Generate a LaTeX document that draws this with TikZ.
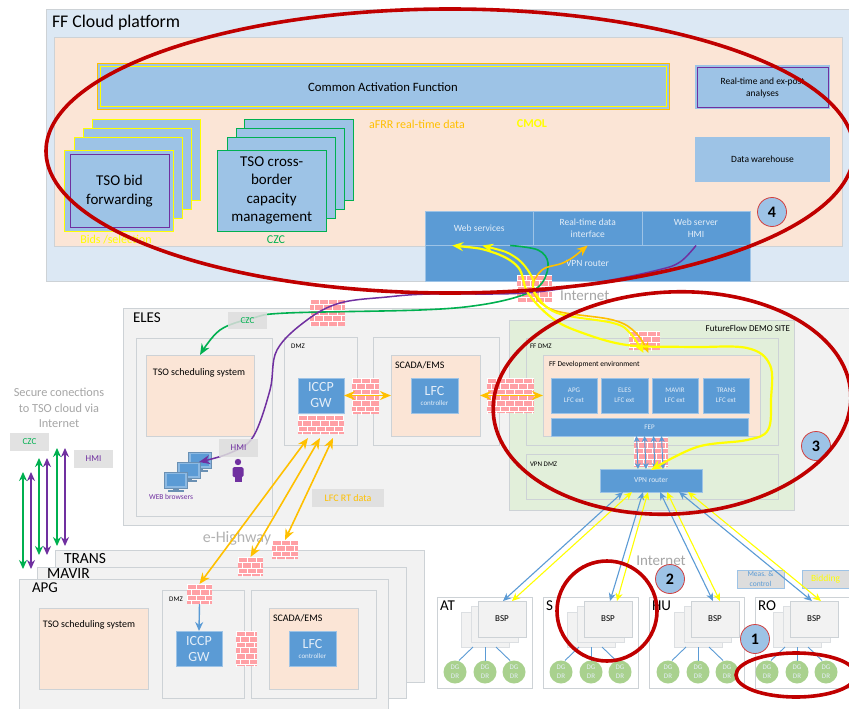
\documentclass[tikz,border=0pt]{standalone}
\usepackage{fontspec}
\setmainfont{Carlito}
\usetikzlibrary{arrows.meta,calc}
\definecolor{skyb}{HTML}{DCE8F4}
\definecolor{peach}{HTML}{FBE5D6}
\definecolor{lblue}{HTML}{9DC3E6}
\definecolor{mblue}{HTML}{5B9BD5}
\definecolor{edge}{HTML}{CDD2D6}
\definecolor{gbox}{HTML}{F2F2F2}
\definecolor{lab}{HTML}{DDDDDD}
\definecolor{dgreen}{HTML}{E2EFDA}
\definecolor{dg}{HTML}{A9D18E}
\definecolor{ffy}{HTML}{FFFF00}
\definecolor{ffo}{HTML}{FFC000}
\definecolor{ffg}{HTML}{00B050}
\definecolor{ffp}{HTML}{7030A0}
\definecolor{ffr}{HTML}{C00000}
\definecolor{brick}{HTML}{FFA0A5}
\definecolor{softw}{HTML}{E4EEF8}
\tikzset{
 x=1pt,y=-1pt,
 >={Stealth[length=9pt,width=8pt]},
 plain/.style={inner sep=0pt,outer sep=0pt,align=center,font=\fontsize{10}{12}\selectfont},
 cloudb/.style={plain,fill=skyb,draw=edge,line width=1pt},
 peachb/.style={plain,fill=peach,draw=edge,line width=1pt},
 greyb/.style={plain,fill=gbox,draw=edge,line width=1pt},
 greenb/.style={plain,fill=dgreen,draw=edge,line width=1pt},
 paleb/.style={plain,fill=lblue},
 yelb/.style={plain,fill=lblue,draw=ffy,line width=1pt},
 grnb/.style={plain,fill=lblue,draw=ffg,line width=1pt},
 solid blue/.style={plain,fill=mblue,text=softw,draw=lblue,line width=.6pt},
 wallfill/.style={plain,fill=brick},
 tag/.style={plain,fill=lab,fill opacity=.85,text opacity=1},
 txt/.style={inner sep=0pt,outer sep=0pt,align=center,font=\fontsize{10}{12}\selectfont},
 dgc/.style={circle,fill=dg,minimum size=23pt,inner sep=0pt,outer sep=0pt,align=center,text=softw,font=\fontsize{7}{9}\selectfont},
 num/.style={circle,fill=lblue,draw=ffr!75,line width=.8pt,minimum size=29pt,inner sep=0pt,font=\bfseries\fontsize{16}{18}\selectfont},
 red ring/.style={draw=ffr,line width=3.6pt},
 bluearr/.style={draw=mblue,line width=1.1pt,<->},
 yelarr/.style={draw=ffy,line width=1.1pt,<->},
 orgarr/.style={draw=ffo,line width=1.6pt,<->},
 linkl/.style={draw=mblue,line width=.9pt},
}
\newcommand{\bx}[7][]{\node[#2,#1,anchor=north west,minimum width={(#5-#3)*1pt},minimum height={(#6-#4)*1pt}] (#7) at (#3,#4) {};}
\newcommand{\tbx}[8][]{\node[#2,#1,anchor=north west,minimum width={(#5-#3)*1pt},minimum height={(#6-#4)*1pt}] (#7) at (#3,#4) {#8};}
\newcommand{\wall}[5]{%
 \bx{wallfill}{#2}{#3}{#4}{#5}{#1}
 \begin{scope}
 \clip (#2,#3) rectangle (#4,#5);
 \foreach \rw in {0,...,9}{%
  \pgfmathsetmacro\yy{#3+\rw*5.6}
  \pgfmathsetmacro\yz{\yy+5.6}
  \draw[white,line width=.7pt] (#2,\yy) -- (#4,\yy);
  \foreach \cl in {0,...,6}{%
   \pgfmathsetmacro\xx{#2+\cl*9+mod(\rw,2)*4.5}
   \draw[white,line width=.7pt] (\xx,\yy) -- (\xx,\yz);
  }
 }
 \end{scope}}
\newcommand{\monitor}[3]{%
 \node[plain,fill=mblue!70,draw=mblue!60!gray,line width=.6pt,minimum width=23pt,minimum height=16pt] (#1) at (#2,#3) {};
 \fill[mblue] (#2-9,#3-6) rectangle (#2+9,#3+6);
 \fill[mblue!60!gray] (#2-3,#3+8) rectangle (#2+3,#3+10);
 \fill[mblue!60!gray] (#2-8,#3+10) rectangle (#2+8,#3+12);}
\newcommand{\bspset}[7]{%
 \pgfmathsetmacro\bxa{#2}\pgfmathsetmacro\bxb{#2+95}
 \bx{plain,fill=white,draw=edge,line width=1pt}{\bxa}{597}{\bxb}{688}{reg#1}
 \node[txt,anchor=west,font=\fontsize{15}{17}\selectfont] (lab#1) at (\bxa+3,606) {#4};
 \pgfmathsetmacro\da{461+#3}\pgfmathsetmacro\db{509+#3}
 \bx{plain,fill=gbox,draw=edge!70,line width=.7pt}{\da}{612}{\db}{647}{bb#1}
 \pgfmathsetmacro\da{471+#3}\pgfmathsetmacro\db{518+#3}
 \bx{plain,fill=gbox,draw=edge!70,line width=.7pt}{\da}{606}{\db}{642}{bm#1}
 \pgfmathsetmacro\da{478+#3}\pgfmathsetmacro\db{526+#3}
 \tbx{plain,fill=gbox,draw=edge,line width=.7pt,font=\fontsize{9}{11}\selectfont}{\da}{601}{\db}{637}{bsp#1}{BSP}
 \node[dgc] (da#1) at (455+#3,672) {DG\\DR};
 \node[dgc] (db#1) at (485+#3,672) {DG\\DR};
 \node[dgc] (dc#1) at (514+#3,672) {DG\\DR};
 \draw[linkl] ($(bb#1.south)+(-12,0)$) -- ($(da#1.north)+(4,0)$);
 \draw[linkl] (bb#1.south) -- (db#1.north);
 \draw[linkl] ($(bb#1.south)+(11,0)$) -- ($(dc#1.north)+(-4,0)$);}
\begin{document}
\begin{tikzpicture}
\clip (0,0) rectangle (849,709);
\fill[white] (0,0) rectangle (849,709);

% ---- Cloud platform
\bx{cloudb}{46}{10}{860}{281}{cloud}
\node[txt,anchor=west,font=\fontsize{17.8}{20}\selectfont] (cloudt) at (52,23) {FF Cloud platform};
\bx{peachb}{54}{38}{842}{246}{cloudin}
\bx{plain,fill=lblue,draw=ffo,line width=1pt}{97}{64}{669}{109}{cafo}
\tbx{yelb,font=\fontsize{12.7}{15}\selectfont}{100}{67}{666}{106.5}{caf}{Common Activation Function}
\node[txt,text=ffo,font=\fontsize{12}{14}\selectfont] (afrr) at (417,124) {aFRR real-time data};
\node[txt,text=ffy,font=\bfseries\fontsize{12}{14}\selectfont] (cmol) at (532,124) {CMOL};
\bx{yelb}{92}{119}{200}{200}{ya3}
\bx{yelb}{83}{128}{191}{209}{ya2}
\bx{yelb}{74}{137}{182}{218}{ya1}
\bx{yelb}{64.5}{150}{173}{231}{ya0}
\tbx{plain,fill=lblue,draw=ffp,line width=1pt,font=\fontsize{15}{18.5}\selectfont}{70}{154.5}{169}{227.5}{bidf}{TSO bid\\forwarding}
\bx{grnb}{244.5}{119}{353}{200}{ga3}
\bx{grnb}{236}{128}{344}{209}{ga2}
\bx{grnb}{227}{137}{335}{218}{ga1}
\tbx{grnb,font=\fontsize{15}{18.5}\selectfont}{217.5}{150}{326}{231}{czcm}{TSO cross-\\border\\capacity\\management}
\node[txt,text=ffy,font=\fontsize{12}{14}\selectfont] (bidl) at (116,240) {Bids /selection};
\node[txt,text=ffg,font=\fontsize{12}{14}\selectfont] (czcl) at (276,240) {CZC};
\bx{plain,fill=lblue}{695}{65}{830}{109}{rto}
\tbx{plain,fill=lblue,draw=ffp,line width=1pt,font=\fontsize{9.5}{12}\selectfont}{697}{68}{828}{107}{rt}{Real-time and ex-post\\analyses}
\tbx{paleb,font=\fontsize{9.5}{12}\selectfont}{695}{137}{830}{182}{dw}{Data warehouse}
\tbx{solid blue,font=\fontsize{9.5}{12}\selectfont}{425}{211}{533.5}{245.5}{webA}{Web services}
\tbx{solid blue,font=\fontsize{9.5}{12}\selectfont}{533.5}{211}{642}{245.5}{webB}{Real-time data\\interface}
\tbx{solid blue,font=\fontsize{9.5}{12}\selectfont}{642}{211}{750}{245.5}{webC}{Web server\\HMI}
\tbx{solid blue,font=\fontsize{9.5}{12}\selectfont}{425}{245.5}{750}{281}{vpnc}{VPN router}
\node[num] (n4) at (772,212) {4};

% ---- ELES
\bx{greyb}{123}{308}{860}{525}{eles}
\node[txt,anchor=west,font=\fontsize{15}{17}\selectfont] (elest) at (133,318) {ELES};
\bx{greyb}{136}{338}{272}{516}{tsobox}
\bx{peachb}{146}{355}{254}{436}{tsos}
\node[txt] (tsost) at (199,373) {TSO scheduling system};
\bx{greyb}{284}{337}{357}{445}{dmzb}
\node[txt,font=\fontsize{7}{9}\selectfont] (dmzt) at (298,346) {DMZ};
\tbx{solid blue,font=\fontsize{14}{16}\selectfont}{298}{378}{344}{413}{iccp}{ICCP\\GW}
\wall{wiccp}{298}{415}{344}{434}
\bx{greyb}{373}{337}{499}{445}{scadab}
\bx{peachb}{391}{355}{480}{436}{scada}
\node[txt,anchor=west] (scadat) at (395,365) {SCADA/EMS};
\tbx{solid blue}{411}{378}{458}{413}{lfc}{{\fontsize{14}{14}\selectfont LFC}\\[-2pt]{\fontsize{7}{8}\selectfont controller}}
\wall{w1}{352}{378}{379}{414}
\wall{w0}{310}{299}{345}{326}

% ---- Demo site
\bx{greenb}{509}{320}{794}{510}{demo}
\node[txt,anchor=east,font=\fontsize{9}{11}\selectfont] (demot) at (790,328) {FutureFlow DEMO SITE};
\bx{greenb}{526}{338}{778}{445}{ffdmz}
\node[txt,anchor=west,font=\fontsize{7}{9}\selectfont] (ffdt) at (530,346) {FF DMZ};
\bx{peachb}{543}{355}{760}{436}{devenv}
\node[txt,anchor=west,font=\fontsize{7.5}{9}\selectfont] (devt) at (549,364) {FF Development environment};
\tbx{solid blue,font=\fontsize{7}{9.5}\selectfont}{551}{378}{597}{413}{exA}{APG\\LFC ext}
\tbx{solid blue,font=\fontsize{7}{9.5}\selectfont}{601}{378}{648}{413}{exB}{ELES\\LFC ext}
\tbx{solid blue,font=\fontsize{7}{9.5}\selectfont}{652}{378}{698}{413}{exC}{MAVIR\\LFC ext}
\tbx{solid blue,font=\fontsize{7}{9.5}\selectfont}{703}{378}{749}{413}{exD}{TRANS\\LFC ext}
\tbx{solid blue,font=\fontsize{7}{9}\selectfont}{551}{418}{748}{436}{fep}{FEP}
\bx{greenb}{526}{454}{778}{499}{vpnd}
\node[txt,anchor=west,font=\fontsize{7}{9}\selectfont] (vpnt) at (530,464) {VPN DMZ};
\tbx{solid blue,font=\fontsize{7.5}{9}\selectfont}{600}{469}{702}{492}{vpnr}{VPN router}
\wall{w3}{487}{378}{534}{413}
\wall{w5}{634}{437}{668}{467}
\wall{w6}{629}{331}{660}{350}
\wall{wtop}{517}{275}{552}{302}
\node[txt,anchor=west,text=black!35,font=\fontsize{15}{17}\selectfont] (inet1) at (560,296) {Internet};
\node[num] (n3) at (816,446) {3};

% FEP to router arrows
\foreach \xs in {-13,-5,4,12}{
 \draw[bluearr,line width=1pt,>={Stealth[length=6pt,width=6pt]}] ([xshift=\xs pt]fep.south) -- ([xshift=\xs pt]vpnr.north);
}

% ---- bottom-left TSOs
\bx{greyb}{55}{550}{424}{682}{trans}
\node[txt,anchor=west,font=\fontsize{15.5}{17}\selectfont] (transt) at (64,559) {TRANS};
\bx{greyb}{37}{567}{406}{698}{mavir}
\node[txt,anchor=west,font=\fontsize{15.5}{17}\selectfont] (mavirt) at (47,574) {MAVIR};
\bx{greyb}{19}{579}{388}{730}{apg}
\node[txt,anchor=west,font=\fontsize{15}{17}\selectfont] (apgt) at (32,588) {APG};
\bx{peachb}{39}{608}{148}{689}{tsos2}
\node[txt] (tsos2t) at (89,625) {TSO scheduling system};
\bx{greyb}{162}{590}{244}{698}{dmz2}
\node[txt,font=\fontsize{7}{9}\selectfont] (dmz2t) at (176,599) {DMZ};
\bx{greyb}{251}{590}{376}{698}{scadb2}
\bx{peachb}{269}{608}{358}{689}{scad2}
\node[txt,anchor=west] (scad2t) at (273,618) {SCADA/EMS};
\tbx{solid blue}{289}{631}{336}{666}{lfc2}{{\fontsize{14}{14}\selectfont LFC}\\[-2pt]{\fontsize{7}{8}\selectfont controller}}
\tbx{solid blue,font=\fontsize{14}{16}\selectfont}{176}{631}{222}{666}{iccp2}{ICCP\\GW}
\wall{wa}{187}{584}{212}{604}
\wall{wb}{236}{631}{257}{666}
\wall{wc}{238}{557}{263}{576}
\wall{wd}{272}{540}{298}{559}
\draw[draw=mblue,line width=1.4pt,->] (wa.south) -- (iccp2.north);
\node[txt,text=black!30,font=\fontsize{16}{18}\selectfont] (ehw) at (237,538) {e-Highway};

% ---- left legend
\node[txt,text=black!35,font=\fontsize{12.3}{15.5}\selectfont] (secure) at (59,408) {Secure conections\\to TSO cloud via\\Internet};
\tbx{tag,text=ffg,font=\fontsize{9}{11}\selectfont}{10}{433}{49}{451}{czcleg}{CZC}
\tbx{tag,text=ffp,font=\fontsize{9}{11}\selectfont}{74}{450}{113}{468}{hmileg}{HMI}
\foreach \xa/\ya/\yb/\nm in {23/472/569/a,39/458/555/b,57/448/546/c}{
 \coordinate (gt\nm) at (\xa,\ya); \coordinate (gb\nm) at (\xa,\yb);
 \coordinate (pt\nm) at (\xa+8,\ya); \coordinate (pb\nm) at (\xa+8,\yb);
 \draw[ffg,line width=1.4pt,<->] (gt\nm) -- (gb\nm);
 \draw[ffp,line width=1.4pt,<->] (pt\nm) -- (pb\nm);
}

% ---- BSP regions
\bspset{A}{437}{0}{AT}{}{}{}
\bspset{B}{543}{106}{S}{}{}{}
\bspset{C}{649}{213}{HU}{}{}{}
\bspset{D}{755}{312}{RO}{}{}{}
\node[txt,text=black!35,font=\fontsize{15}{17}\selectfont] (inet2) at (661,561) {Internet};
\tbx{plain,fill=lab,draw=lblue,line width=.8pt,text=mblue,font=\fontsize{7.5}{9.5}\selectfont}{737}{570}{784}{588}{meas}{Meas. \&\\control}
\tbx{plain,fill=lab,draw=lblue,line width=.8pt,text=ffy,font=\fontsize{9.5}{11}\selectfont}{802}{570}{849}{588}{bidd}{Bidding}

% router - BSP arrows
\tikzset{>={Stealth[length=8pt,width=7pt]}}
\draw[bluearr] ([xshift=-28pt]vpnr.south) -- ([xshift=1pt]bspA.north);
\draw[yelarr] ([xshift=-19pt]vpnr.south) -- ([xshift=10pt]bspA.north);
\draw[bluearr] ([xshift=-8pt]vpnr.south) -- ([xshift=2pt]bspB.north);
\draw[yelarr] ([xshift=-3pt]vpnr.south) -- ([xshift=9pt]bspB.north);
\draw[bluearr] ([xshift=9pt]vpnr.south) -- ([xshift=-2pt]bspC.north);
\draw[yelarr] ([xshift=16pt]vpnr.south) -- ([xshift=5pt]bspC.north);
\draw[bluearr] ([xshift=28pt]vpnr.south) -- ([xshift=-2pt]bspD.north);
\draw[yelarr] ([xshift=37pt]vpnr.south) -- ([xshift=7pt]bspD.north);

% ELES labels and icons
\tbx{tag,text=ffo,font=\fontsize{10}{12}\selectfont}{312}{489}{384}{507}{lfcrt}{LFC RT data}
\monitor{m1}{199.5}{460}
\monitor{m2}{188.5}{470}
\monitor{m3}{175.5}{480}
\node[txt,text=ffp,font=\fontsize{7.5}{9}\selectfont] (webb) at (171,497) {WEB browsers};
\fill[ffp] (238,462) circle (3.2);
\fill[ffp,rounded corners=1.5pt] (232.5,467) rectangle (243.5,477);
\fill[ffp] (234.5,475) rectangle (241.5,482);

\tikzset{>={Stealth[length=11pt,width=9pt]}}
\coordinate (oa) at ($(wiccp.south west)+(10,4)$);
\coordinate (ob) at ($(wiccp.south west)+(22,4)$);
\coordinate (oc) at ($(wiccp.south west)+(35,4)$);
\draw[orgarr] (oa) -- (wa.north);
\draw[orgarr] (ob) -- (wc.north);
\draw[orgarr] (oc) -- (wd.north);
\draw[orgarr] (iccp.east) -- (scada.west);
\draw[orgarr] (scada.east) -- (devenv.west);

% big curves
\coordinate (ta) at ([xshift=-27pt]webA.south);
\coordinate (tb) at ([xshift=3pt]webA.south);
\coordinate (tg) at ([xshift=31pt]webA.south);
\coordinate (tbd) at ([xshift=-1pt,yshift=-3pt]w6.south);
\coordinate (tod) at ([xshift=4pt,yshift=-3pt]w6.south);
\coordinate (trd) at ([yshift=-1pt]vpnr.north);
\draw[ffg,line width=1.6pt,->] plot[smooth,tension=.6] coordinates {(tg) (538,250) (548,263) (542,283) (523,295) (480,305) (420,310) (287,313) (253,318) (220,330) (tsos.north)};
\draw[ffp,line width=1.5pt,->] plot[smooth,tension=.6] coordinates {(webC.south) (680,262) (658,270) (600,282) (525,293) (430,294) (387,297) (340,303) (307,320) (277,350) (270,390) (253,437) (230,453) (199,462)};
\draw[ffo,line width=1.6pt,<->] plot[smooth,tension=.6] coordinates {(webB.south) (565,262) (542,270) (533,290) (553,310) (613,320) (636,333) (tod)};
\draw[ffy,line width=2.2pt,<->] plot[smooth,tension=.6] coordinates {(ta) (492,252) (518,267) (528,293) (552,318) (580,332) (627,345) (690,347) (747,348) (770,365) (771,400) (768,430) (747,440) (697,447) (trd)};
\draw[ffy,line width=2pt,<->] plot[smooth,tension=.6] coordinates {(tb) (515,257) (532,277) (535,293) (557,313) (613,323) (630,333) (tbd)};
% tags over lines
\tbx{tag,text=ffg,font=\fontsize{9}{11}\selectfont}{228}{312}{267}{329}{czctag}{CZC}
\tbx{tag,text=ffp,font=\fontsize{9}{11}\selectfont}{219}{439}{258}{457}{hmitag}{HMI}

% red rings
\draw[red ring] (450,151) ellipse [x radius=404,y radius=142];
\draw[red ring,rotate around={3:(672,403)}] (672,403) ellipse [x radius=179,y radius=111];
\draw[red ring] (607,611) circle (50);
\draw[red ring] (796,675) ellipse [x radius=60,y radius=22];
\node[num] (n2) at (670,579) {2};
\node[num] (n1) at (755,639) {1};
\end{tikzpicture}
\end{document}
